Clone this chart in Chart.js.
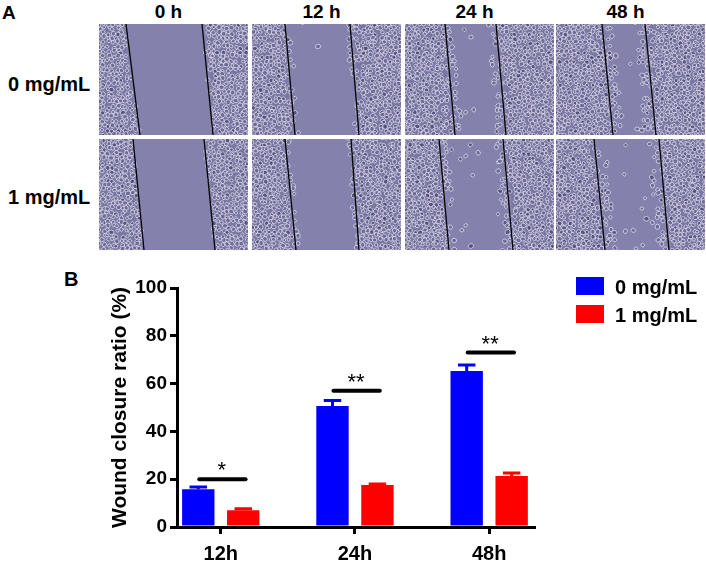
<!DOCTYPE html>
<html>
<head>
<meta charset="utf-8">
<script src="https://cdn.jsdelivr.net/npm/chart.js@4.4.0/dist/chart.umd.min.js"></script>
<style>
  body { margin: 0; background: #fff; width: 706px; height: 568px; position: relative; overflow: hidden;
         font-family: "Liberation Sans", Arial, sans-serif; font-weight: bold; color: #000; }
  .lbl { position: absolute; white-space: nowrap; line-height: 1; }
  canvas.field { position: absolute; }
  #chartBox { position: absolute; left: 0; top: 262px; width: 706px; height: 306px; }
  .legBox { position: absolute; left: 576px; width: 28px; height: 18px; }
  .legTxt { position: absolute; left: 615px; font-size: 20px; line-height: 1; white-space: nowrap; }
</style>
</head>
<body>
<div class="lbl" style="left:2px;top:3px;font-size:19px">A</div>
<div class="lbl" style="left:64px;top:269px;font-size:20px">B</div>
<div id="chartBox"><canvas id="woundChart"></canvas></div>

<script>
// ---- data (panel B) ----
const timePoints = ['12h', '24h', '48h'];
const ctrlMean = [15.8, 50.6, 65.3];
const ctrlErr = [0.9, 2.3, 2.5];
const treatMean = [7.0, 17.6, 21.3];
const treatErr = [0.6, 0.4, 1.3];
const sigLevel = [20, 57, 73];
const sigMark = ['*', '**', '**'];
const groupNames = ['0 mg/mL', '1 mg/mL'];

// ---- panel A headings ----
const imageHours = ['0 h', '12 h', '24 h', '48 h'];

// scratch-wound micrographs, drawn as plain canvas decoration
const colX = [99, 252, 405, 556];
const rowY = [24, 139];
const fieldW = 149, fieldH = 111;
// wound edge lines [leftTop, leftBottom, rightTop, rightBottom] per row, per column
const edges = [
  [[27, 41, 103, 114], [33, 43, 98, 107], [40, 50, 91, 101], [46, 57, 89, 100]],
  [[34, 45, 105, 116], [33, 44, 99, 107], [34, 44, 98, 108], [38, 49, 103, 113]]
];
const spread = [0, 4, 8, 11];

function hash(a, b, c) {
  const s = Math.sin(a * 127.1 + b * 311.7 + c * 74.7) * 43758.5453;
  return s - Math.floor(s);
}

function drawField(cv, e, seed, t) {
  const ctx = cv.getContext('2d');
  const w = cv.width, h = cv.height;
  ctx.fillStyle = '#8482ac';
  ctx.fillRect(0, 0, w, h);
  // cell sheets either side of the wound
  ctx.fillStyle = '#7a78a2';
  ctx.beginPath();
  ctx.moveTo(0, 0); ctx.lineTo(e[0] - 3, 0); ctx.lineTo(e[1] - 3, h); ctx.lineTo(0, h); ctx.fill();
  ctx.beginPath();
  ctx.moveTo(w, 0); ctx.lineTo(e[2] + 3, 0); ctx.lineTo(e[3] + 3, h); ctx.lineTo(w, h); ctx.fill();
  for (let gy = 0; gy < h + 4; gy += 4.6) {
    for (let gx = 0; gx < w + 4; gx += 4.6) {
      const jx = hash(gx, gy, seed), jy = hash(gy, gx, seed + 7);
      const x = gx + (jx - 0.5) * 3.4, y = gy + (jy - 0.5) * 3.4;
      const lx = e[0] + (e[1] - e[0]) * y / h;
      const rx = e[2] + (e[3] - e[2]) * y / h;
      let inSheet = x < lx - 3 || x > rx + 3;
      if (!inSheet) {
        const d = Math.min(x - lx, rx - x);
        const p = hash(x, y, seed + 3);
        if (d < spread[t] && p < 0.55) inSheet = true;
        else if (p < 0.012 * t) inSheet = true;
      }
      if (!inSheet) continue;
      const r = 1.6 + hash(x, y, seed + 11) * 1.1;
      ctx.beginPath();
      ctx.ellipse(x, y, r, r * 0.85, jx * 3, 0, Math.PI * 2);
      ctx.fillStyle = jy > 0.8 ? '#55537e' : '#6e6c96';
      ctx.fill();
      ctx.strokeStyle = 'rgba(235,233,248,0.8)';
      ctx.lineWidth = 0.9;
      ctx.stroke();
    }
  }
  ctx.strokeStyle = '#000';
  ctx.lineWidth = 1.3;
  ctx.beginPath();
  ctx.moveTo(e[0], 0); ctx.lineTo(e[1], h);
  ctx.moveTo(e[2], 0); ctx.lineTo(e[3], h);
  ctx.stroke();
}

imageHours.forEach((hLabel, c) => {
  const d = document.createElement('div');
  d.className = 'lbl';
  d.style.fontSize = '19px';
  d.style.top = '2px';
  d.style.left = (colX[c] + fieldW / 2 - 5) + 'px';
  d.style.transform = 'translateX(-50%)';
  d.textContent = hLabel;
  document.body.appendChild(d);
  rowY.forEach((ry, r) => {
    const cv = document.createElement('canvas');
    cv.className = 'field';
    cv.width = fieldW; cv.height = fieldH;
    cv.style.left = colX[c] + 'px';
    cv.style.top = ry + 'px';
    document.body.appendChild(cv);
    drawField(cv, edges[r][c], r * 10 + c + 1, c);
  });
});

[[groupNames[0], 74], [groupNames[1], 187]].forEach(([txt, top]) => {
  const d = document.createElement('div');
  d.className = 'lbl';
  d.style.fontSize = '20px';
  d.style.left = '8px';
  d.style.top = top + 'px';
  d.textContent = txt;
  document.body.appendChild(d);
});

// ---- error bars and significance marks ----
const annotate = {
  id: 'annotate',
  afterDatasetsDraw(chart) {
    const { ctx, scales: { x, y } } = chart;
    ctx.save();
    chart.data.datasets.forEach((ds, di) => {
      const meta = chart.getDatasetMeta(di);
      meta.data.forEach((bar, i) => {
        const base = y.getPixelForValue(ds.data[i].y);
        const top = y.getPixelForValue(ds.data[i].y + ds.err[i]);
        ctx.strokeStyle = ds.backgroundColor;
        ctx.lineWidth = 3;
        ctx.beginPath();
        ctx.moveTo(bar.x, base); ctx.lineTo(bar.x, top);
        ctx.moveTo(bar.x - bar.width * 0.27, top); ctx.lineTo(bar.x + bar.width * 0.27, top);
        ctx.stroke();
      });
    });
    ctx.strokeStyle = '#000';
    ctx.fillStyle = '#000';
    ctx.lineWidth = 4;
    ctx.lineCap = 'round';
    ctx.font = '22px "Liberation Sans", Arial';
    ctx.textAlign = 'center';
    ctx.textBaseline = 'alphabetic';
    sigLevel.forEach((v, i) => {
      const py = y.getPixelForValue(v);
      ctx.beginPath();
      ctx.moveTo(x.getPixelForValue(i - 0.16), py);
      ctx.lineTo(x.getPixelForValue(i + 0.185), py);
      ctx.stroke();
      ctx.fillText(sigMark[i], x.getPixelForValue(i) + 1, py - 2);
    });
    ctx.restore();
  }
};

const axisFont = { family: '"Liberation Sans", Arial, sans-serif', weight: 'bold' };

const chart = new Chart(document.getElementById('woundChart'), {
  type: 'bar',
  data: {
    datasets: [{
      label: groupNames[0],
      data: ctrlMean.map((v, i) => ({ x: i, y: v })),
      err: ctrlErr,
      backgroundColor: '#0000ff'
    }, {
      label: groupNames[1],
      data: treatMean.map((v, i) => ({ x: i, y: v })),
      err: treatErr,
      backgroundColor: '#ff0000'
    }]
  },
  options: {
    responsive: true,
    maintainAspectRatio: false,
    animation: false,
    categoryPercentage: 0.67,
    barPercentage: 0.72,
    layout: { padding: { left: 96, right: 172, top: 26, bottom: 0 } },
    plugins: { legend: { display: false }, tooltip: { enabled: false } },
    scales: {
      x: {
        type: 'linear',
        offset: false,
        min: -0.326,
        max: 2.334,
        afterBuildTicks: s => { s.ticks = timePoints.map((_, i) => ({ value: i })); },
        afterFit: s => { s.height = 41; },
        grid: { offset: false, drawOnChartArea: false, color: '#000', lineWidth: 3, tickLength: 7 },
        border: { color: '#000', width: 3 },
        ticks: {
          color: '#000', padding: 8, maxRotation: 0,
          font: { ...axisFont, size: 20 },
          callback: v => timePoints[v]
        }
      },
      y: {
        min: 0,
        max: 100,
        afterFit: s => { s.width = 81; },
        grid: { drawOnChartArea: false, color: '#000', lineWidth: 3, tickLength: 7 },
        border: { color: '#000', width: 3 },
        ticks: { stepSize: 20, color: '#000', padding: 3, font: { ...axisFont, size: 19 } },
        title: {
          display: true,
          text: 'Wound closure ratio (%)',
          color: '#000',
          padding: { top: 12, bottom: 0 },
          font: { ...axisFont, size: 21 }
        }
      }
    }
  },
  plugins: [annotate]
});

// legend from the datasets
chart.data.datasets.forEach((ds, i) => {
  const box = document.createElement('div');
  box.className = 'legBox';
  box.style.top = (277 + i * 28) + 'px';
  box.style.background = ds.backgroundColor;
  document.body.appendChild(box);
  const t = document.createElement('div');
  t.className = 'legTxt';
  t.style.top = (277 + i * 28) + 'px';
  t.textContent = ds.label;
  document.body.appendChild(t);
});
</script>
</body>
</html>
